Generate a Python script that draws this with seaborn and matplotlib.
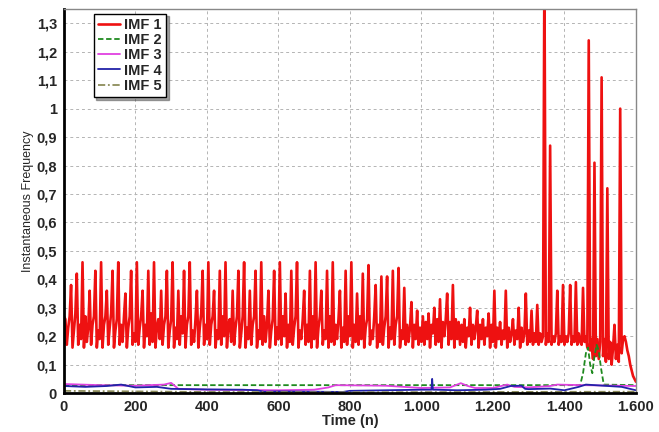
import numpy as np
import pandas as pd
import matplotlib
matplotlib.use("Agg")
import matplotlib.pyplot as plt
import seaborn as sns

# IMF 1 instantaneous frequency, every 4 samples (one row per 100 samples)
imf1_t = np.arange(0, 1601, 4)
imf1_v = [
    0.27, 0.26, 0.17, 0.23, 0.27, 0.38, 0.16, 0.22, 0.28, 0.42, 0.17, 0.24, 0.19, 0.46, 0.16, 0.27, 0.18, 0.23, 0.36, 0.17, 0.24, 0.27, 0.43, 0.16, 0.22,
    0.19, 0.46, 0.16, 0.24, 0.27, 0.36, 0.17, 0.23, 0.28, 0.43, 0.16, 0.22, 0.26, 0.46, 0.17, 0.24, 0.18, 0.27, 0.35, 0.16, 0.23, 0.27, 0.43, 0.17, 0.21,
    0.18, 0.46, 0.17, 0.23, 0.27, 0.36, 0.16, 0.24, 0.20, 0.43, 0.17, 0.28, 0.18, 0.46, 0.16, 0.23, 0.26, 0.19, 0.36, 0.17, 0.24, 0.27, 0.43, 0.16, 0.22,
    0.26, 0.46, 0.16, 0.23, 0.19, 0.36, 0.17, 0.27, 0.21, 0.43, 0.16, 0.24, 0.27, 0.46, 0.17, 0.22, 0.18, 0.26, 0.36, 0.16, 0.23, 0.28, 0.43, 0.17, 0.24,
    0.19, 0.46, 0.17, 0.24, 0.27, 0.36, 0.16, 0.22, 0.19, 0.43, 0.17, 0.27, 0.20, 0.46, 0.16, 0.24, 0.26, 0.18, 0.36, 0.17, 0.23, 0.27, 0.43, 0.16, 0.21,
    0.27, 0.46, 0.16, 0.23, 0.19, 0.36, 0.17, 0.24, 0.27, 0.43, 0.16, 0.22, 0.19, 0.46, 0.17, 0.27, 0.18, 0.24, 0.36, 0.16, 0.22, 0.26, 0.43, 0.17, 0.23,
    0.19, 0.46, 0.17, 0.27, 0.20, 0.35, 0.16, 0.24, 0.18, 0.43, 0.17, 0.23, 0.27, 0.46, 0.16, 0.22, 0.19, 0.26, 0.36, 0.17, 0.24, 0.18, 0.43, 0.16, 0.27,
    0.19, 0.46, 0.16, 0.23, 0.27, 0.36, 0.17, 0.22, 0.19, 0.43, 0.16, 0.27, 0.18, 0.46, 0.17, 0.24, 0.19, 0.26, 0.36, 0.16, 0.23, 0.18, 0.43, 0.17, 0.27,
    0.20, 0.46, 0.16, 0.24, 0.18, 0.35, 0.17, 0.27, 0.19, 0.42, 0.16, 0.23, 0.26, 0.45, 0.17, 0.22, 0.19, 0.27, 0.38, 0.16, 0.24, 0.18, 0.41, 0.17, 0.23,
    0.27, 0.41, 0.16, 0.23, 0.19, 0.43, 0.17, 0.24, 0.27, 0.44, 0.16, 0.22, 0.19, 0.37, 0.17, 0.24, 0.18, 0.23, 0.32, 0.16, 0.24, 0.19, 0.29, 0.17, 0.23,
    0.18, 0.27, 0.17, 0.25, 0.19, 0.28, 0.16, 0.24, 0.21, 0.30, 0.17, 0.26, 0.18, 0.33, 0.16, 0.25, 0.20, 0.26, 0.35, 0.17, 0.25, 0.19, 0.38, 0.16, 0.26,
    0.19, 0.25, 0.17, 0.24, 0.18, 0.26, 0.16, 0.23, 0.20, 0.30, 0.17, 0.24, 0.19, 0.23, 0.29, 0.16, 0.24, 0.19, 0.26, 0.17, 0.23, 0.20, 0.28, 0.16, 0.24,
    0.18, 0.36, 0.16, 0.23, 0.19, 0.25, 0.17, 0.22, 0.19, 0.36, 0.16, 0.23, 0.18, 0.21, 0.26, 0.17, 0.22, 0.19, 0.30, 0.16, 0.23, 0.18, 0.21, 0.35, 0.17,
    0.22, 0.18, 0.29, 0.17, 0.21, 0.18, 0.31, 0.17, 0.21, 0.18, 0.20, 1.50, 0.17, 0.21, 0.18, 0.87, 0.17, 0.20, 0.18, 0.21, 0.36, 0.17, 0.20, 0.18, 0.38,
    0.17, 0.20, 0.18, 0.21, 0.38, 0.17, 0.20, 0.18, 0.39, 0.17, 0.21, 0.18, 0.17, 0.37, 0.18, 0.20, 0.16, 1.24, 0.15, 0.19, 0.12, 0.81, 0.13, 0.19, 0.12,
    0.18, 1.11, 0.13, 0.19, 0.11, 0.72, 0.12, 0.18, 0.10, 0.16, 0.24, 0.12, 0.17, 0.11, 1.00, 0.14, 0.19, 0.20, 0.18, 0.15, 0.13, 0.10, 0.08, 0.06, 0.05,
    0.04,
]

imf2_t = [0, 1444, 1452, 1460, 1466, 1472, 1478, 1484, 1490, 1496, 1502, 1510, 1600]
imf2_v = [0.028, 0.028, 0.07, 0.14, 0.16, 0.10, 0.07, 0.13, 0.17, 0.15, 0.09, 0.03, 0.028]

imf3_t = [0, 100, 200, 280, 300, 320, 400, 600, 700, 740, 760, 900, 1000, 1080, 1110,
          1130, 1150, 1200, 1240, 1260, 1300, 1360, 1380, 1450, 1600]
imf3_v = [0.032, 0.028, 0.026, 0.03, 0.036, 0.015, 0.012, 0.010, 0.012, 0.02, 0.028, 0.026, 0.018, 0.02, 0.035,
          0.025, 0.018, 0.018, 0.03, 0.022, 0.02, 0.025, 0.03, 0.028, 0.025]

imf4_t = [0, 60, 120, 160, 180, 200, 260, 300, 400, 500, 540, 560, 600, 700, 780, 800, 900, 1000,
          1028, 1030, 1032, 1040, 1100, 1180, 1220, 1250, 1280, 1290, 1300, 1360, 1400, 1440, 1460, 1560, 1600]
imf4_v = [0.025, 0.022, 0.025, 0.03, 0.025, 0.02, 0.022, 0.015, 0.013, 0.012, 0.01, 0.005, 0.006, 0.005, 0.004, 0.008, 0.01, 0.012,
          0.012, 0.05, 0.012, 0.012, 0.01, 0.012, 0.015, 0.025, 0.026, 0.015, 0.014, 0.016, 0.01, 0.022, 0.03, 0.022, 0.01]

imf5_t = [0, 200, 400, 800, 1200, 1600]
imf5_v = [0.008, 0.006, 0.004, 0.003, 0.004, 0.005]

y_ticks = [0, 0.1, 0.2, 0.3, 0.4, 0.5, 0.6, 0.7, 0.8, 0.9, 1.0, 1.1, 1.2, 1.3]
y_labels = ["0", "0,1", "0,2", "0,3", "0,4", "0,5", "0,6", "0,7", "0,8", "0,9", "1", "1,1", "1,2", "1,3"]
x_ticks = [0, 200, 400, 600, 800, 1000, 1200, 1400, 1600]
x_labels = ["0", "200", "400", "600", "800", "1.000", "1.200", "1.400", "1.600"]

sns.set_style("white")
plt.rcParams['font.family'] = ['Liberation Sans', 'DejaVu Sans']

fig = plt.figure(figsize=(6.59, 4.32), dpi=100)
ax = fig.add_axes([0.097, 0.090, 0.868, 0.889])

series = [
    ("IMF 1", imf1_t, imf1_v, "#ee1111", "-", 1.9),
    ("IMF 2", imf2_t, imf2_v, "#1f8a1f", (0, (3, 1.5)), 1.3),
    ("IMF 3", imf3_t, imf3_v, "#e040e0", "-", 1.3),
    ("IMF 4", imf4_t, imf4_v, "#2222a8", "-", 1.3),
    ("IMF 5", imf5_t, imf5_v, "#8c8c5a", (0, (4, 1.5, 1, 1.5)), 1.3),
]
for name, t, v, col, ls, lw in series:
    df = pd.DataFrame({"time": t, "freq": v})
    sns.lineplot(data=df, x="time", y="freq", color=col, linestyle=ls, linewidth=lw,
                 estimator=None, sort=False, label=name, ax=ax)

ax.set_xlim(0, 1600)
ax.set_ylim(0, 1.35)
ax.set_xticks(x_ticks)
ax.set_xticklabels(x_labels, fontweight="bold", fontsize=10.5)
ax.set_yticks(y_ticks)
ax.set_yticklabels(y_labels, fontweight="bold", fontsize=10.5)
ax.tick_params(axis="both", length=3, width=0.8, color="#777777", pad=2)
ax.grid(True, color="#b4b4b4", linestyle=(0, (3, 3)), linewidth=0.7)

ax.set_xlabel("Time (n)", fontweight="bold", fontsize=10.5, labelpad=0)
ax.set_ylabel("Instantaneous Frequency", fontsize=9, labelpad=2)

for side in ["left", "bottom"]:
    ax.spines[side].set_color("black")
    ax.spines[side].set_linewidth(2)
for side in ["top", "right"]:
    ax.spines[side].set_color("#888888")
    ax.spines[side].set_linewidth(1)

leg = ax.legend(loc="upper left", bbox_to_anchor=(0.052, 0.988), frameon=True, fancybox=False,
                shadow=True, edgecolor="black", handlelength=1.5, handletextpad=0.3,
                labelspacing=0.08, borderpad=0.3, borderaxespad=0,
                prop={"weight": "bold", "size": 10.5})
leg.get_frame().set_linewidth(1)

fig.savefig("out.png", dpi=100)
